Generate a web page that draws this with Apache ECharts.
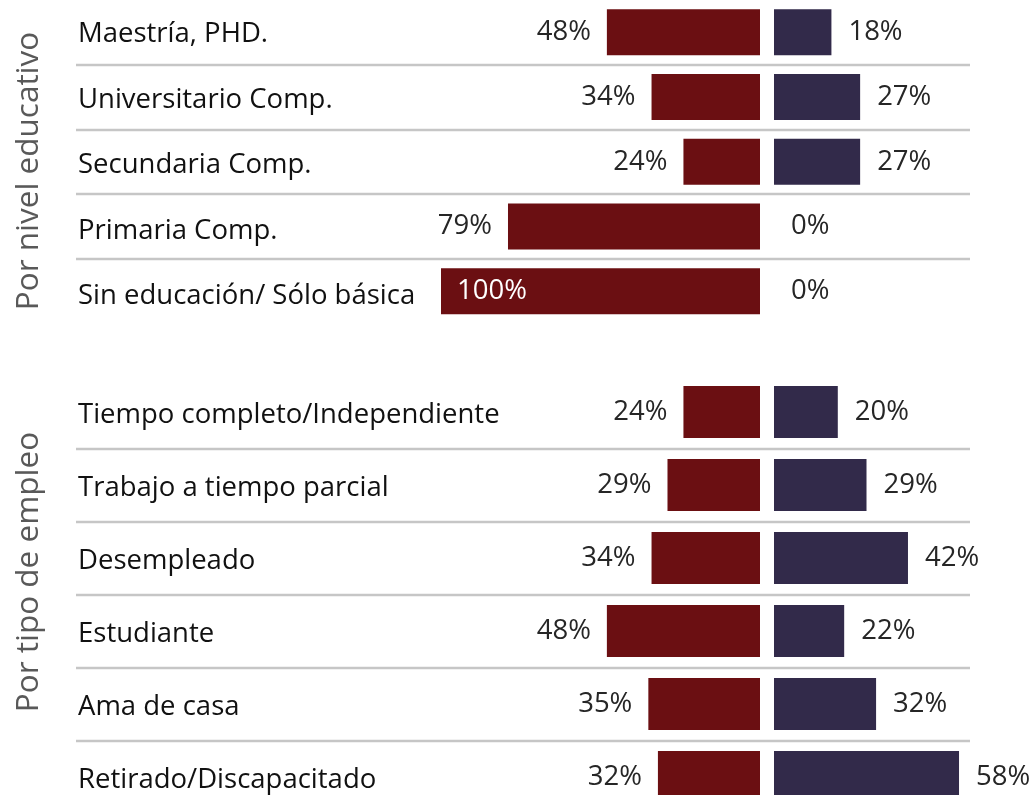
<!DOCTYPE html>
<html>
<head>
<meta charset="utf-8">
<script src="https://cdn.jsdelivr.net/npm/echarts@6/dist/echarts.min.js"></script>
<style>
  html, body { margin: 0; padding: 0; background: #fff; overflow: hidden; }
  /* el lienzo es más grande que la ventana: la última fila y la barra de 58% quedan cortadas como en el original */
  #chart { width: 1120px; height: 840px; }
</style>
</head>
<body>
<div id="chart"></div>
<script>
// Por nivel educativo
const eduCats = ["Maestría, PHD.", "Universitario Comp.", "Secundaria Comp.", "Primaria Comp.", "Sin educación/ Sólo básica"];
const eduLeft = [48, 34, 24, 79, 100];
const eduRight = [18, 27, 27, 0, 0];

// Por tipo de empleo
const empCats = ["Tiempo completo/Independiente", "Trabajo a tiempo parcial", "Desempleado", "Estudiante", "Ama de casa", "Retirado/Discapacitado"];
const empLeft = [24, 29, 34, 48, 35, 32];
const empRight = [20, 29, 42, 22, 32, 58];

const groupTitles = ["Por nivel educativo", "Por tipo de empleo"];

const FONT = "Open Sans";
const RED = "#6b0f12";
const BLUE = "#322a4a";

// labelShift: las etiquetas de categoría van un poco más abajo que el centro de la fila
const panels = [
  { top: -4, height: 327.5, cats: eduCats, left: eduLeft, right: eduRight, barWidth: 46, labelShift: 5.5 },
  { top: 375.5, height: 438, cats: empCats, left: empLeft, right: empRight, barWidth: 52, labelShift: 3 },
];

const grid = [];
const xAxis = [];
const yAxis = [];
const series = [];

function addAxes(gridIndex, cats, inverseX, extra) {
  xAxis.push({ gridIndex: gridIndex, type: "value", min: 0, max: 100, inverse: inverseX, show: false });
  yAxis.push(Object.assign({
    gridIndex: gridIndex,
    type: "category",
    inverse: true,
    data: cats,
    axisLine: { show: false },
    axisTick: { show: false },
    axisLabel: { show: false },
    splitLine: { show: false },
  }, extra));
}

panels.forEach((p) => {
  // etiquetas de categoría
  grid.push({ left: 76, width: 894, top: p.top + p.labelShift, height: p.height });
  addAxes(grid.length - 1, p.cats, false, {
    axisLabel: {
      show: true,
      align: "left",
      margin: -2,
      fontFamily: FONT,
      fontSize: 27.5,
      color: "#111",
    },
  });

  // líneas separadoras
  grid.push({ left: 76, width: 894, top: p.top, height: p.height });
  addAxes(grid.length - 1, p.cats, false, {
    splitLine: {
      show: true,
      showMinLine: false,
      showMaxLine: false,
      lineStyle: { color: "#c6c6c6", width: 2.3 },
    },
  });

  // barras izquierda (rojo)
  grid.push({ left: 441, width: 319, top: p.top, height: p.height });
  addAxes(grid.length - 1, p.cats, true, {});
  series.push({
    type: "bar",
    xAxisIndex: grid.length - 1,
    yAxisIndex: grid.length - 1,
    barWidth: p.barWidth,
    itemStyle: { color: RED },
    data: p.left.map((v) => {
      const item = { value: v };
      // la barra de 100% lleva la etiqueta dentro
      if (v >= 90) {
        item.label = { position: "insideLeft", color: "#fff", distance: 16 };
      }
      return item;
    }),
    label: {
      show: true,
      position: "left",
      distance: 16,
      formatter: "{c}%",
      fontFamily: FONT,
      fontSize: 27.5,
      color: "#262626",
    },
  });

  // barras derecha (azul)
  grid.push({ left: 774, width: 319, top: p.top, height: p.height });
  addAxes(grid.length - 1, p.cats, false, {});
  series.push({
    type: "bar",
    xAxisIndex: grid.length - 1,
    yAxisIndex: grid.length - 1,
    barWidth: p.barWidth,
    itemStyle: { color: BLUE },
    data: p.right,
    label: {
      show: true,
      position: "right",
      distance: 17,
      formatter: "{c}%",
      fontFamily: FONT,
      fontSize: 27.5,
      color: "#262626",
    },
  });
});

const option = {
  animation: false,
  grid: grid,
  xAxis: xAxis,
  yAxis: yAxis,
  series: series,
  graphic: [
    {
      type: "text",
      x: 29,
      y: 171,
      rotation: Math.PI / 2,
      style: {
        text: groupTitles[0],
        fontFamily: FONT,
        fontSize: 31.5,
        fill: "#595959",
        align: "center",
        verticalAlign: "middle",
      },
    },
    {
      type: "text",
      x: 29,
      y: 572,
      rotation: Math.PI / 2,
      style: {
        text: groupTitles[1],
        fontFamily: FONT,
        fontSize: 31.5,
        fill: "#595959",
        align: "center",
        verticalAlign: "middle",
      },
    },
  ],
};

const chart = echarts.init(document.getElementById("chart"));
chart.setOption(option);
</script>
</body>
</html>
